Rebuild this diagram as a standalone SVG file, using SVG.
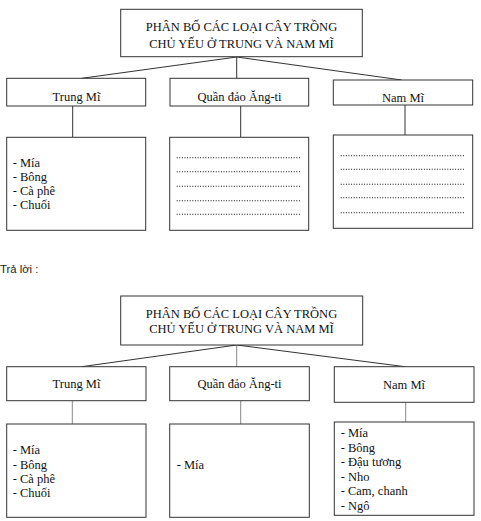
<svg xmlns="http://www.w3.org/2000/svg" width="481" height="521" viewBox="0 0 481 521">
<style>
.box{fill:#fff;stroke:#333;stroke-width:1}
.t{font-family:"Liberation Serif","Times New Roman",serif;font-size:12.5px;fill:#111}
.c{text-anchor:middle}
.con{stroke:#333;stroke-width:1;fill:none}
.con2{stroke:#888;stroke-width:1;fill:none}
.dot{stroke:#111;stroke-width:1.1;stroke-dasharray:1 1.6}
.s{font-family:"Liberation Sans",Arial,sans-serif;font-size:11.3px;fill:#222}
</style>
<rect width="481" height="521" fill="#fff"/>
<g id="connectors">
<path class="con" d="M236.7 57 L81.7 78.3 M236.7 57 L236.7 78.3 M236.7 57 L401.7 80"/>
<path class="con" d="M72.7 106 V137.3 M240.7 106 V137.3 M405 105 V135"/>
<path class="con" d="M236.7 345 L81.7 366.7 M236.7 345 L405 366.7"/>
<path class="con2" d="M236.7 345 V366.7 M72.3 400.7 V424 M240.7 400.7 V424 M405.7 402.3 V422"/>
</g>
<g id="top-title">
<rect class="box" x="120.7" y="9.3" width="241.6" height="47.4"/>
<text class="t c" x="241.5" y="31">PHÂN BỐ CÁC LOẠI CÂY TRỒNG</text>
<text class="t c" x="241.5" y="47.5">CHỦ YẾU Ở TRUNG VÀ NAM MĨ</text>
</g>
<g id="top-trungmi">
<rect class="box" x="6.7" y="78.3" width="139" height="27.7"/>
<text class="t c" x="76.5" y="100.8">Trung Mĩ</text>
</g>
<g id="top-angti">
<rect class="box" x="170" y="78.3" width="138.7" height="27.7"/>
<text class="t c" x="239.5" y="100.8">Quần đảo Ăng-ti</text>
</g>
<g id="top-nammi">
<rect class="box" x="333.3" y="80" width="139.4" height="25"/>
<text class="t c" x="403" y="101.5">Nam Mĩ</text>
</g>
<g id="top-trungmi-list">
<rect class="box" x="6.7" y="137.3" width="139" height="93"/>
<text class="t" x="12.7" y="167">- Mía</text>
<text class="t" x="12.7" y="181">- Bông</text>
<text class="t" x="12.7" y="195">- Cà phê</text>
<text class="t" x="12.7" y="209">- Chuối</text>
</g>
<g id="top-angti-list">
<rect class="box" x="169.7" y="137.3" width="139" height="93"/>
<path class="dot" d="M176.7 157.7 H301 M176.7 171.7 H301 M176.7 186.3 H301 M176.7 200.7 H301 M176.7 214.3 H301"/>
</g>
<g id="top-nammi-list">
<rect class="box" x="333.3" y="135" width="139.4" height="93.3"/>
<path class="dot" d="M340.7 155.7 H464.3 M340.7 169.3 H464.3 M340.7 184.3 H464.3 M340.7 197.7 H464.3 M340.7 212.7 H464.3"/>
</g>
<text class="s" x="0" y="273">Trả lời :</text>
<g id="bottom-title">
<rect class="box" x="120.7" y="296" width="242" height="49"/>
<text class="t c" x="241.5" y="317.7">PHÂN BỐ CÁC LOẠI CÂY TRỒNG</text>
<text class="t c" x="241.5" y="333.3">CHỦ YẾU Ở TRUNG VÀ NAM MĨ</text>
</g>
<g id="bottom-trungmi">
<rect class="box" x="6.7" y="366.7" width="139.3" height="34"/>
<text class="t c" x="76.5" y="388.3">Trung Mĩ</text>
</g>
<g id="bottom-angti">
<rect class="box" x="169.7" y="366.7" width="139.6" height="34"/>
<text class="t c" x="239.5" y="388.3">Quần đảo Ăng-ti</text>
</g>
<g id="bottom-nammi">
<rect class="box" x="334.3" y="366.7" width="139.7" height="35.6"/>
<text class="t c" x="404" y="389.3">Nam Mĩ</text>
</g>
<g id="bottom-trungmi-list">
<rect class="box" x="6.7" y="424" width="139.3" height="93.3"/>
<text class="t" x="12.7" y="454.3">- Mía</text>
<text class="t" x="12.7" y="468.5">- Bông</text>
<text class="t" x="12.7" y="482.5">- Cà phê</text>
<text class="t" x="12.7" y="496.5">- Chuối</text>
</g>
<g id="bottom-angti-list">
<rect class="box" x="169.7" y="424" width="139.6" height="93.3"/>
<text class="t" x="176.7" y="468.5">- Mía</text>
</g>
<g id="bottom-nammi-list">
<rect class="box" x="334.3" y="422" width="139.7" height="93.3"/>
<text class="t" x="340.7" y="437">- Mía</text>
<text class="t" x="340.7" y="452">- Bông</text>
<text class="t" x="340.7" y="466">- Đậu tương</text>
<text class="t" x="340.7" y="481">- Nho</text>
<text class="t" x="340.7" y="495.3">- Cam, chanh</text>
<text class="t" x="340.7" y="510">- Ngô</text>
</g>
</svg>
